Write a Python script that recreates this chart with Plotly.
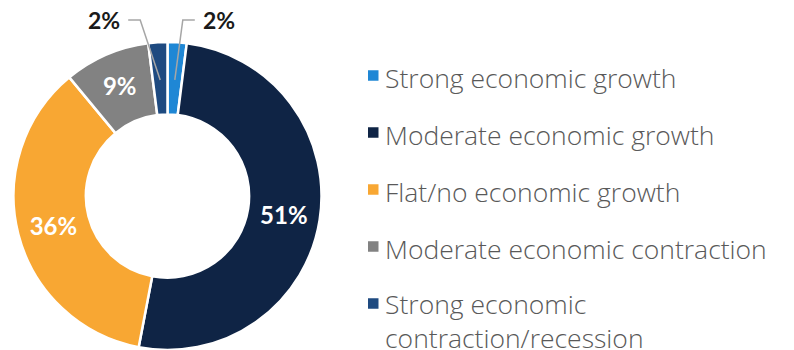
import math
import plotly.graph_objects as go

# Survey shares by economic outlook
categories = [
    "Strong economic growth",
    "Moderate economic growth",
    "Flat/no economic growth",
    "Moderate economic contraction",
    "Strong economic contraction/recession",
]
legend_labels = [
    "Strong economic growth",
    "Moderate economic growth",
    "Flat/no economic growth",
    "Moderate economic contraction",
    "Strong economic<br>contraction/recession",
]
shares = [2, 51, 36, 9, 2]
colors = ["#1f87d5", "#0f2445", "#f8a733", "#828282", "#1e4a80"]

W, H = 794, 350
cx, cy, R = 167.5, 196.0, 154.0  # donut centre / radius in pixels (from top-left)
HOLE = 0.53
SMALL = 5  # slices below this share get an outside label with a leader line

LABEL_FONT = "Lato"
LEGEND_FONT = "Open Sans"


def px(x):
    return x / W


def py(y):
    return 1 - y / H


inside_text = [f"{v}%" if v >= SMALL else "" for v in shares]

fig = go.Figure(
    go.Pie(
        labels=categories,
        values=shares,
        text=inside_text,
        textinfo="text",
        textposition="inside",
        insidetextorientation="horizontal",
        textfont=dict(family=LABEL_FONT, size=24, color="white", weight="bold"),
        hole=HOLE,
        sort=False,
        direction="clockwise",
        rotation=0,
        marker=dict(colors=colors, line=dict(color="white", width=2.5)),
        domain=dict(x=[px(cx - R), px(cx + R)], y=[py(cy + R), py(cy - R)]),
        showlegend=False,
        hoverinfo="label+percent",
    )
)

# Outside labels with elbow leader lines for the thin slices
shapes = []
annotations = []
total = sum(shares)
cum = 0.0
for v in shares:
    start = cum
    cum += v
    if v >= SMALL:
        continue
    mid = (start + v / 2) / total * 2 * math.pi
    r_end = 0.755 * R
    ex = cx + r_end * math.sin(mid)
    ey = cy - r_end * math.cos(mid)
    left = math.sin(mid) < 0
    elbow_y = 20
    elbow_x = ex + (-20 if left else 8)
    tail_x = elbow_x + (-12 if left else 12)
    shapes.append(
        dict(
            type="path",
            xref="paper",
            yref="paper",
            path=f"M {px(ex)},{py(ey)} L {px(elbow_x)},{py(elbow_y)} L {px(tail_x)},{py(elbow_y)}",
            line=dict(color="#a6a6a6", width=1.5),
        )
    )
    annotations.append(
        dict(
            text=f"{v}%",
            xref="paper",
            yref="paper",
            x=px(tail_x + (-6 if left else 6)),
            y=py(elbow_y),
            xanchor="right" if left else "left",
            yanchor="middle",
            showarrow=False,
            font=dict(family=LABEL_FONT, size=23, color="#1a1a1a", weight="bold"),
        )
    )

# Legend drawn as square swatches plus text
LEG_X = 368
LEG_Y0 = 75.5
LEG_STEP = 57
LINE_STEP = 31
SW = 10.5
for i, (lab, col) in enumerate(zip(legend_labels, colors)):
    yc = LEG_Y0 + i * LEG_STEP
    shapes.append(
        dict(
            type="rect",
            xref="paper",
            yref="paper",
            x0=px(LEG_X),
            x1=px(LEG_X + SW),
            y0=py(yc - SW / 2),
            y1=py(yc + SW / 2),
            fillcolor=col,
            line=dict(width=0),
        )
    )
    n_lines = lab.count("<br>") + 1
    annotations.append(
        dict(
            text=lab,
            xref="paper",
            yref="paper",
            x=px(LEG_X + SW + 4),
            y=py(yc + 2 + (n_lines - 1) * LINE_STEP / 2),
            xanchor="left",
            yanchor="middle",
            align="left",
            showarrow=False,
            font=dict(family=LEGEND_FONT, size=26.5, color="#595959", weight=300),
        )
    )

fig.update_layout(
    width=W,
    height=H,
    margin=dict(l=0, r=0, t=0, b=0),
    paper_bgcolor="white",
    plot_bgcolor="white",
    shapes=shapes,
    annotations=annotations,
)

fig.write_html("out.html")
